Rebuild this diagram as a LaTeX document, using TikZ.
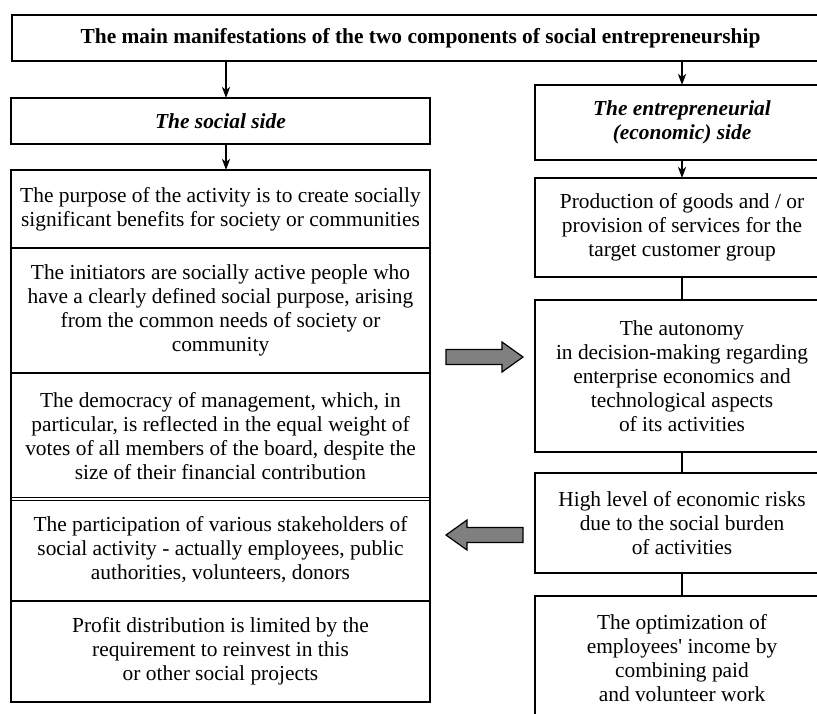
\documentclass[tikz,border=0pt]{standalone}
\usepackage{fontspec}
\setmainfont{Liberation Serif}
\usetikzlibrary{positioning,arrows.meta}

\tikzset{
  box/.style={draw, line width=1pt, align=center, inner sep=0pt, outer sep=0pt,
    font=\fontsize{10.7}{12}\selectfont},
  head/.style={box, font=\fontsize{10.7}{12}\selectfont\bfseries},
  side/.style={box, font=\fontsize{10.7}{12}\selectfont\bfseries\itshape},
  lcol/.style={box, minimum width=209.5pt},
  rcol/.style={box, minimum width=147pt, anchor=north},
  bigarrow/.style={draw, line width=0.6pt, fill=gray},
}

\begin{document}
\begin{tikzpicture}[x=0.5pt, y=-0.5pt, >={Stealth[length=5.5pt,width=4pt,inset=1.5pt]}]
  \useasboundingbox (0,0) rectangle (817,713);
  \clip (0,0) rectangle (817,713);

  \node [head, minimum width=408.5pt, minimum height=23pt] (T) at (420.5,38)
    {The main manifestations of the two components of social entrepreneurship};
  \node [side, minimum width=209.5pt, minimum height=23pt] (S) at (220.5,121) {The social side};
  \node [side, minimum width=147pt, minimum height=37.5pt] (E) at (682,122.5)
    {The entrepreneurial\\(economic) side};

  % social side
  \node [lcol, anchor=north, minimum height=39pt] (S1) at (220.5,170)
    {The purpose of the activity is to create socially\\significant benefits for society or communities};
  \node [lcol, minimum height=62.5pt, below=0pt of S1] (S2)
    {The initiators are socially active people who\\have a clearly defined social purpose, arising\\from the common needs of society or\\community};
  \node [lcol, minimum height=63pt, below=0pt of S2] (S3)
    {The democracy of management, which, in\\particular, is reflected in the equal weight of\\votes of all members of the board, despite the\\size of their financial contribution};
  \node [lcol, minimum height=51pt, below=0pt of S3] (S4)
    {The participation of various stakeholders of\\social activity - actually employees, public\\authorities, volunteers, donors};
  \node [lcol, minimum height=50.5pt, below=0pt of S4] (S5)
    {Profit distribution is limited by the\\requirement to reinvest in this\\or other social projects};
  \draw [line width=1.7pt] (S3.south west) -- (S3.south east);
  \draw [white, line width=0.6pt] ([xshift=0.6pt]S3.south west) -- ([xshift=-0.6pt]S3.south east);

  % economic side
  \node [rcol, minimum height=49.5pt] (E1) at (682,178)
    {Production of goods and / or\\provision of services for the\\target customer group};
  \node [rcol, minimum height=76pt] (E2) at (682,300)
    {The autonomy\\in decision-making regarding\\enterprise economics and\\technological aspects\\of its activities};
  \node [rcol, minimum height=50pt] (E3) at (682,473)
    {High level of economic risks\\due to the social burden\\of activities};
  \node [rcol, minimum height=62.5pt] (E4) at (682,596)
    {The optimization of\\employees\textquotesingle{} income by\\combining paid\\and volunteer work};

  \coordinate (s1) at ([xshift=2.75pt]S.north);
  \coordinate (s2) at ([xshift=2.75pt]S.south);
  \coordinate (s3) at ([xshift=2.75pt]S1.north);
  \draw [->, line width=1pt] (s1 |- T.south) -- (s1);
  \draw [->, line width=1pt] (E.north |- T.south) -- (E.north);
  \draw [->, line width=1pt] (s2) -- (s3);
  \draw [->, line width=1pt] (E) -- (E1);
  \draw [line width=1pt] (E1) -- (E2);
  \draw [line width=1pt] (E2) -- (E3);
  \draw [line width=1pt] (E3) -- (E4);

  % wide arrows between the sides
  \draw [bigarrow] (446,349.5) -- (502,349.5) -- (502,342) -- (523,357)
    -- (502,372) -- (502,364.5) -- (446,364.5) -- cycle;
  \draw [bigarrow] (523,527.5) -- (467,527.5) -- (467,520) -- (446,535)
    -- (467,550) -- (467,542.5) -- (523,542.5) -- cycle;
\end{tikzpicture}
\end{document}
